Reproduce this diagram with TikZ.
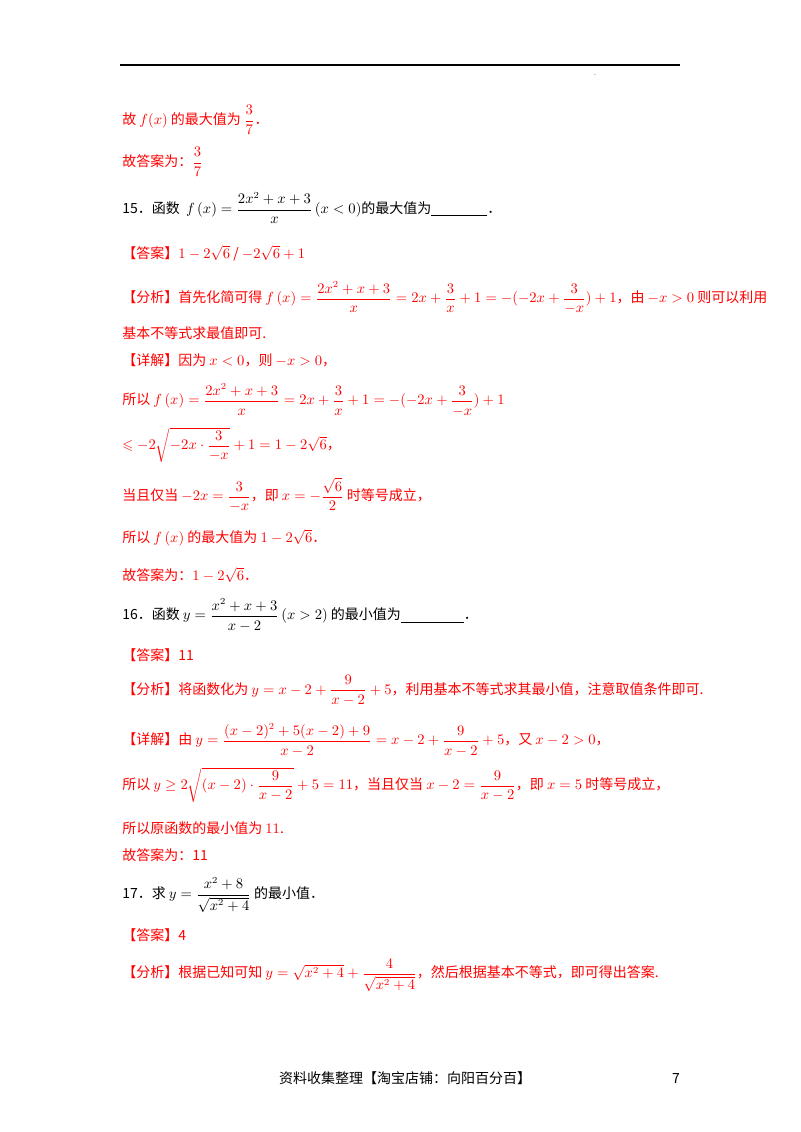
\documentclass[tikz,border=0pt]{standalone}
\usepackage{amsmath,amssymb}
\usepackage{fontspec}
\setmainfont{Noto Sans CJK SC}
\begin{document}
\begin{tikzpicture}[x=0.75pt,y=-0.75pt,
  ln/.style={anchor=west,inner sep=0pt,font=\fontsize{10.5}{12}\selectfont},
  rd/.style={ln,text=red}]
\useasboundingbox (0,0) rectangle (800,1132);
\draw[line width=0.8pt] (120,65) -- (680,65);
\node[inner sep=0pt,font=\tiny] (dot) at (595,75) {.};
\node[rd] (l1) at (122,120) {故 $f(x)$ 的最大值为 $\dfrac{3}{7}$．};
\node[rd] (l2) at (122,162) {故答案为：$\dfrac{3}{7}$};
\node[ln] (l3) at (122,208) {15．函数 \ $f\left(x\right)=\dfrac{2x^2+x+3}{x}\left(x<0\right)$的最大值为\underline{\hspace{4em}}．};
\node[rd] (l4) at (122,253) {【答案】$1-2\sqrt{6}$ / $-2\sqrt{6}+1$};
\node[rd] (l5) at (122,298) {【分析】首先化简可得 $f\left(x\right)=\dfrac{2x^2+x+3}{x}=2x+\dfrac{3}{x}+1=-(-2x+\dfrac{3}{-x})+1$，由 $-x>0$ 则可以利用};
\node[rd] (l6) at (122,333) {基本不等式求最值即可.};
\node[rd] (l7) at (122,360) {【详解】因为 $x<0$，则 $-x>0$，};
\node[rd] (l8) at (122,400) {所以 $f\left(x\right)=\dfrac{2x^2+x+3}{x}=2x+\dfrac{3}{x}+1=-(-2x+\dfrac{3}{-x})+1$};
\node[rd] (l9) at (122,445) {$\leqslant -2\sqrt{-2x\cdot\dfrac{3}{-x}}+1=1-2\sqrt{6}$，};
\node[rd] (l10) at (122,495) {当且仅当 $-2x=\dfrac{3}{-x}$，即 $x=-\dfrac{\sqrt{6}}{2}$ 时等号成立，};
\node[rd] (l11) at (122,538) {所以 $f\left(x\right)$ 的最大值为 $1-2\sqrt{6}$．};
\node[rd] (l12) at (122,575) {故答案为：$1-2\sqrt{6}$．};
\node[ln] (l13) at (122,615) {16．函数 $y=\dfrac{x^2+x+3}{x-2}\left(x>2\right)$ 的最小值为\underline{\hspace{4.5em}}．};
\node[rd] (l14) at (122,655) {【答案】11};
\node[rd] (l15) at (122,690) {【分析】将函数化为 $y=x-2+\dfrac{9}{x-2}+5$，利用基本不等式求其最小值，注意取值条件即可.};
\node[rd] (l16) at (122,740) {【详解】由 $y=\dfrac{(x-2)^2+5(x-2)+9}{x-2}=x-2+\dfrac{9}{x-2}+5$，又 $x-2>0$，};
\node[rd] (l17) at (122,785) {所以 $y\geq 2\sqrt{(x-2)\cdot\dfrac{9}{x-2}}+5=11$，当且仅当 $x-2=\dfrac{9}{x-2}$，即 $x=5$ 时等号成立，};
\node[rd] (l18) at (122,828) {所以原函数的最小值为 $11$.};
\node[rd] (l19) at (122,855) {故答案为：11};
\node[ln] (l20) at (122,895) {17．求 $y=\dfrac{x^2+8}{\sqrt{x^2+4}}$ 的最小值．};
\node[rd] (l21) at (122,935) {【答案】4};
\node[rd] (l22) at (122,975) {【分析】根据已知可知 $y=\sqrt{x^2+4}+\dfrac{4}{\sqrt{x^2+4}}$，然后根据基本不等式，即可得出答案.};
\node[inner sep=0pt,font=\fontsize{10.5}{12}\selectfont] (ft) at (405,1078) {资料收集整理【淘宝店铺：向阳百分百】};
\node[inner sep=0pt,font=\fontsize{10.5}{12}\selectfont] (pg) at (676,1078) {7};
\end{tikzpicture}
\end{document}
